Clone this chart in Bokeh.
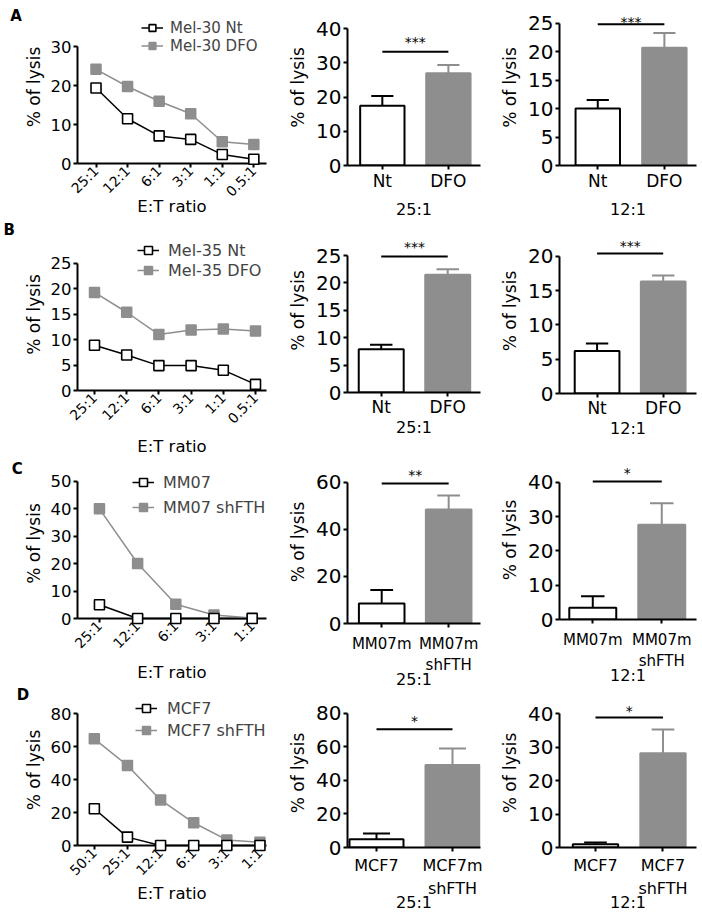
import math
from bokeh.plotting import figure
from bokeh.layouts import row, column
from bokeh.models import Range1d, FixedTicker, Legend, LegendItem, ColumnDataSource
from bokeh.core.properties import value
from bokeh.embed import file_html
from bokeh.resources import INLINE

# ---------------- data ----------------
ratios_ab = ["25:1", "12:1", "6:1", "3:1", "1:1", "0.5:1"]
ratios_c = ["25:1", "12:1", "6:1", "3:1", "1:1"]
ratios_d = ["50:1", "25:1", "12:1", "6:1", "3:1", "1:1"]

a_names = ["Mel-30 Nt", "Mel-30 DFO"]
a_ctrl = [19.4, 11.5, 7.1, 6.2, 2.3, 1.1]
a_trt = [24.2, 19.8, 16.0, 12.8, 5.6, 4.9]

b_names = ["Mel-35 Nt", "Mel-35 DFO"]
b_ctrl = [8.9, 7.0, 4.9, 4.9, 4.0, 1.2]
b_trt = [19.3, 15.4, 11.0, 11.9, 12.1, 11.7]

c_names = ["MM07", "MM07 shFTH"]
c_ctrl = [5.0, 0.0, 0.0, 0.0, 0.0]
c_trt = [39.9, 20.0, 5.2, 1.3, 0.2]

d_names = ["MCF7", "MCF7 shFTH"]
d_ctrl = [22.3, 5.1, 0.0, 0.0, 0.0, 0.0]
d_trt = [64.8, 48.6, 27.7, 13.8, 3.4, 2.0]

a_groups = ["Nt", "DFO"]
b_groups = ["Nt", "DFO"]
c_groups = ["MM07m", "MM07m\nshFTH"]
d25_groups = ["MCF7", "MCF7m\nshFTH"]
d12_groups = ["MCF7", "MCF7\nshFTH"]

a25_mean = [17.5, 27.0]; a25_err = [2.8, 2.4]
a12_mean = [10.0, 20.7]; a12_err = [1.5, 2.6]
b25_mean = [7.9, 21.5]; b25_err = [0.8, 1.0]
b12_mean = [6.2, 16.3]; b12_err = [1.1, 0.9]
c25_mean = [8.5, 48.4]; c25_err = [5.7, 5.9]
c12_mean = [3.4, 27.6]; c12_err = [3.4, 6.3]
d25_mean = [4.9, 49.2]; d25_err = [3.4, 9.7]
d12_mean = [1.0, 28.2]; d12_err = [0.5, 7.1]

# significance: (stars, bracket height, star height) in data units
a25_sig = ("***", 33.3, 37.4)
a12_sig = ("***", 24.8, 26.0)
b25_sig = ("***", 24.8, 27.2)
b12_sig = ("***", 20.4, 22.1)
c25_sig = ("**", 59.4, 64.6)
c12_sig = ("*", 40.2, 43.7)
d25_sig = ("*", 70.4, 77.6)
d12_sig = ("*", 38.9, 42.0)

ratio_titles = ["25:1", "12:1"]
panel_letters = ["A", "B", "C", "D"]

# ---------------- style ----------------
FONT = "DejaVu Sans"
BLACK = "#000000"
GRAY = "#8e8e8e"


def base_fig(cx, cw, ry, rh, fl, fr, ft, y0, ytop, topval, x0, dx):
    bl = int(round(fl - cx)); br = int(round(cx + cw - fr))
    bt = int(round(ft - ry)); bb = int(round(ry + rh - y0))
    FL = cx + bl; FR = cx + cw - br; FT = ry + bt; FB = ry + rh - bb
    s = (FB - ytop) / topval
    p = figure(width=cw, height=rh,
               x_range=Range1d((FL - x0) / dx, (FR - x0) / dx),
               y_range=Range1d(0, (FB - FT) / s),
               min_border_left=bl, min_border_right=br, min_border_top=bt, min_border_bottom=bb,
               output_backend="svg", toolbar_location=None)
    p.outline_line_color = None
    p.xgrid.visible = False
    p.ygrid.visible = False
    p.background_fill_color = "white"
    p.border_fill_color = "white"
    conv = dict(x0=x0, dx=dx, FB=FB, s=s)
    return p, conv


def style_axis(ax, tick_size, label_size):
    ax.axis_line_width = 2
    ax.axis_line_color = BLACK
    ax.major_tick_line_width = 2
    ax.major_tick_line_color = BLACK
    ax.major_tick_out = 4
    ax.major_tick_in = 0
    ax.minor_tick_line_color = None
    ax.major_label_text_font = FONT
    ax.major_label_text_font_size = tick_size
    ax.major_label_text_color = BLACK
    ax.axis_label_text_font = FONT
    ax.axis_label_text_font_size = label_size
    ax.axis_label_text_font_style = "normal"
    ax.axis_label_text_color = BLACK


def add_letter(p, conv, letter, px, py):
    p.text(x=[(px - conv["x0"]) / conv["dx"]], y=[(conv["FB"] - py) / conv["s"]], text=[letter],
           text_font=value(FONT), text_font_style="bold", text_font_size="15px",
           text_align="left", text_baseline="top", text_color=BLACK, level="overlay")


LINE_LAYOUT = {
    "A": dict(cx=0, cw=270, ry=0, rh=220, fl=72, fr=266, ft=10, y0=163.3, ytop=46.3, x0=91, dx=32.4,
              mx=147, tx=165, r2=46, sp=-2, font="15px", h0=17, xstand=-11, lt=6),
    "B": dict(cx=0, cw=270, ry=220, rh=239, fl=77, fr=266, ft=238, y0=391.7, ytop=263.3, x0=94, dx=32.2,
              mx=148, tx=168, r2=272, sp=0, font="16px", h0=20, xstand=2, lt=219),
    "C": dict(cx=0, cw=270, ry=459, rh=226, fl=72, fr=270, ft=468, y0=618.7, ytop=480.7, x0=95, dx=40,
              mx=138, tx=158, r2=508, sp=5, font="16px", h0=20, xstand=3, lt=458),
    "D": dict(cx=0, cw=270, ry=685, rh=232, fl=68, fr=270, ft=694, y0=845, ytop=713.3, x0=86, dx=35.4,
              mx=137, tx=158, r2=730, sp=2, font="16px", h0=20, xstand=-3, lt=684),
}


def line_panel(key, letter, ratios, ctrl, trt, names, topval, step):
    L = LINE_LAYOUT[key]
    p, conv = base_fig(L["cx"], L["cw"], L["ry"], L["rh"], L["fl"], L["fr"], L["ft"],
                       L["y0"], L["ytop"], topval, L["x0"], L["dx"])
    FB = conv["FB"]
    xs = list(range(len(ratios)))
    l2 = p.line(xs, trt, line_color=GRAY, line_width=1.5, level="overlay")
    m2 = p.scatter(xs, trt, marker="square", size=10, fill_color=GRAY, line_color=GRAY,
                   line_width=1.5, level="overlay")
    l1 = p.line(xs, ctrl, line_color=BLACK, line_width=1.5, level="overlay")
    m1 = p.scatter(xs, ctrl, marker="square", size=10, fill_color="white", line_color=BLACK,
                   line_width=1.6, level="overlay")
    style_axis(p.yaxis[0], "16.5px", "17px")
    style_axis(p.xaxis[0], "14px", "16.5px")
    p.yaxis.ticker = FixedTicker(ticks=list(range(0, topval + 1, step)))
    p.yaxis.bounds = (0, topval)
    p.yaxis.axis_label = "% of lysis"
    p.yaxis.major_label_standoff = 2
    p.yaxis.axis_label_standoff = 4
    p.xaxis.ticker = FixedTicker(ticks=xs)
    p.xaxis.major_label_overrides = {i: r for i, r in enumerate(ratios)}
    p.xaxis.major_label_orientation = math.pi / 4
    p.xaxis.major_label_standoff = 1
    p.xaxis.axis_label = "E:T ratio"
    p.xaxis.axis_label_standoff = L["xstand"]
    H0 = L["h0"]
    GW = 22
    FL = L["cx"] + int(round(L["fl"] - L["cx"]))
    leg = Legend(items=[LegendItem(label=names[0], renderers=[l1, m1]),
                        LegendItem(label=names[1], renderers=[l2, m2])],
                 location=(L["mx"] - GW / 2 - FL, FB - (L["r2"] + H0 / 2)),
                 orientation="vertical", padding=0, margin=0, spacing=L["sp"],
                 border_line_color=None, background_fill_alpha=0,
                 label_text_font=FONT, label_text_font_size=L["font"],
                 glyph_width=GW, glyph_height=H0, label_height=H0,
                 label_standoff=int(round(L["tx"] - (L["mx"] + GW / 2))))
    p.add_layout(leg)
    add_letter(p, conv, letter, 3, max(L["lt"], L["ry"]))
    return p


BAR_LAYOUT = {
    "A25": dict(cx=270, cw=224, ry=0, rh=222, fl=340, fr=487, ft=9, y0=165, ytop=28.3, c0=378.5, c1=451.5, bw=49,
                cat="17px", lh=1.0, ms=1, ast=6),
    "A12": dict(cx=494, cw=207, ry=0, rh=222, fl=552, fr=697, ft=9, y0=165, ytop=22.7, c0=592.5, c1=663, bw=47,
                cat="17px", lh=1.0, ms=1, ast=6),
    "B25": dict(cx=270, cw=224, ry=222, rh=233, fl=345, fr=487, ft=228, y0=391.7, ytop=255, c0=381, c1=452, bw=48,
                cat="17px", lh=1.0, ms=0, ast=-2),
    "B12": dict(cx=494, cw=207, ry=222, rh=233, fl=552, fr=696, ft=228, y0=392.7, ytop=255.7, c0=591.5, c1=661, bw=47,
                cat="17px", lh=1.0, ms=0, ast=-2),
    "C25": dict(cx=270, cw=224, ry=455, rh=241, fl=347, fr=487, ft=460, y0=622.7, ytop=481.7, c0=383, c1=453.5, bw=48,
                cat="15px", lh=1.2, ms=7, ast=-7),
    "C12": dict(cx=494, cw=207, ry=455, rh=241, fl=559, fr=699, ft=460, y0=619, ytop=481.7, c0=593, c1=663.5, bw=48,
                cat="15px", lh=1.2, ms=7, ast=-7),
    "D25": dict(cx=270, cw=224, ry=696, rh=221, fl=347, fr=480, ft=698, y0=847.3, ytop=712.7, c0=376, c1=452, bw=54,
                cat="16px", lh=1.25, ms=4, ast=-8),
    "D12": dict(cx=494, cw=207, ry=696, rh=221, fl=558, fr=697, ft=698, y0=846.7, ytop=713.3, c0=594.5, c1=663, bw=46,
                cat="16px", lh=1.25, ms=4, ast=-8),
}


def bar_panel(key, groups, mean, err, sig, title, topval, step):
    L = BAR_LAYOUT[key]
    dx = L["c1"] - L["c0"]
    p, conv = base_fig(L["cx"], L["cw"], L["ry"], L["rh"], L["fl"], L["fr"], L["ft"],
                       L["y0"], L["ytop"], topval, L["c0"], dx)
    bw = L["bw"] / dx
    xs = list(range(len(groups)))
    src = ColumnDataSource(dict(
        x=xs, top=mean, up=[m + e for m, e in zip(mean, err)],
        capl=[x - bw / 4 for x in xs], capr=[x + bw / 4 for x in xs],
        fill=["white", GRAY], line=[BLACK, GRAY]))
    p.vbar(x="x", top="top", bottom=0, width=bw, fill_color="fill", line_color="line",
           line_width=2, source=src)
    p.segment(x0="x", y0="top", x1="x", y1="up", line_color="line", line_width=2, source=src)
    p.segment(x0="capl", y0="up", x1="capr", y1="up", line_color="line", line_width=2, source=src)
    stars, sy, ty = sig
    p.segment(x0=[xs[0]], y0=[sy], x1=[xs[1]], y1=[sy], line_color=BLACK, line_width=2, level="overlay")
    p.text(x=[(xs[0] + xs[1]) / 2], y=[ty], text=[stars], text_font=value(FONT),
           text_font_size="14px", text_align="center", text_baseline="middle", y_offset=4,
           text_color=BLACK, level="overlay")
    style_axis(p.yaxis[0], "20px", "17px")
    style_axis(p.xaxis[0], L["cat"], "16px")
    p.yaxis.ticker = FixedTicker(ticks=list(range(0, topval + 1, step)))
    p.yaxis.bounds = (0, topval)
    p.yaxis.axis_label = "% of lysis"
    p.yaxis.major_label_standoff = 2
    p.yaxis.axis_label_standoff = 5
    p.xaxis.ticker = FixedTicker(ticks=xs)
    p.xaxis.major_label_overrides = {i: g for i, g in enumerate(groups)}
    p.xaxis.major_label_standoff = L["ms"]
    p.xaxis.major_label_text_line_height = L["lh"]
    p.xaxis.axis_label = title
    p.xaxis.axis_label_standoff = L["ast"]
    return p


pA = line_panel("A", panel_letters[0], ratios_ab, a_ctrl, a_trt, a_names, 30, 10)
pB = line_panel("B", panel_letters[1], ratios_ab, b_ctrl, b_trt, b_names, 25, 5)
pC = line_panel("C", panel_letters[2], ratios_c, c_ctrl, c_trt, c_names, 50, 10)
pD = line_panel("D", panel_letters[3], ratios_d, d_ctrl, d_trt, d_names, 80, 20)

qA1 = bar_panel("A25", a_groups, a25_mean, a25_err, a25_sig, ratio_titles[0], 40, 10)
qA2 = bar_panel("A12", a_groups, a12_mean, a12_err, a12_sig, ratio_titles[1], 25, 5)
qB1 = bar_panel("B25", b_groups, b25_mean, b25_err, b25_sig, ratio_titles[0], 25, 5)
qB2 = bar_panel("B12", b_groups, b12_mean, b12_err, b12_sig, ratio_titles[1], 20, 5)
qC1 = bar_panel("C25", c_groups, c25_mean, c25_err, c25_sig, ratio_titles[0], 60, 20)
qC2 = bar_panel("C12", c_groups, c12_mean, c12_err, c12_sig, ratio_titles[1], 40, 10)
qD1 = bar_panel("D25", d25_groups, d25_mean, d25_err, d25_sig, ratio_titles[0], 80, 20)
qD2 = bar_panel("D12", d12_groups, d12_mean, d12_err, d12_sig, ratio_titles[1], 40, 10)

layout = row(column(pA, pB, pC, pD, spacing=0),
             column(qA1, qB1, qC1, qD1, spacing=0),
             column(qA2, qB2, qC2, qD2, spacing=0), spacing=0)

open("out.html", "w").write(file_html(layout, INLINE))
